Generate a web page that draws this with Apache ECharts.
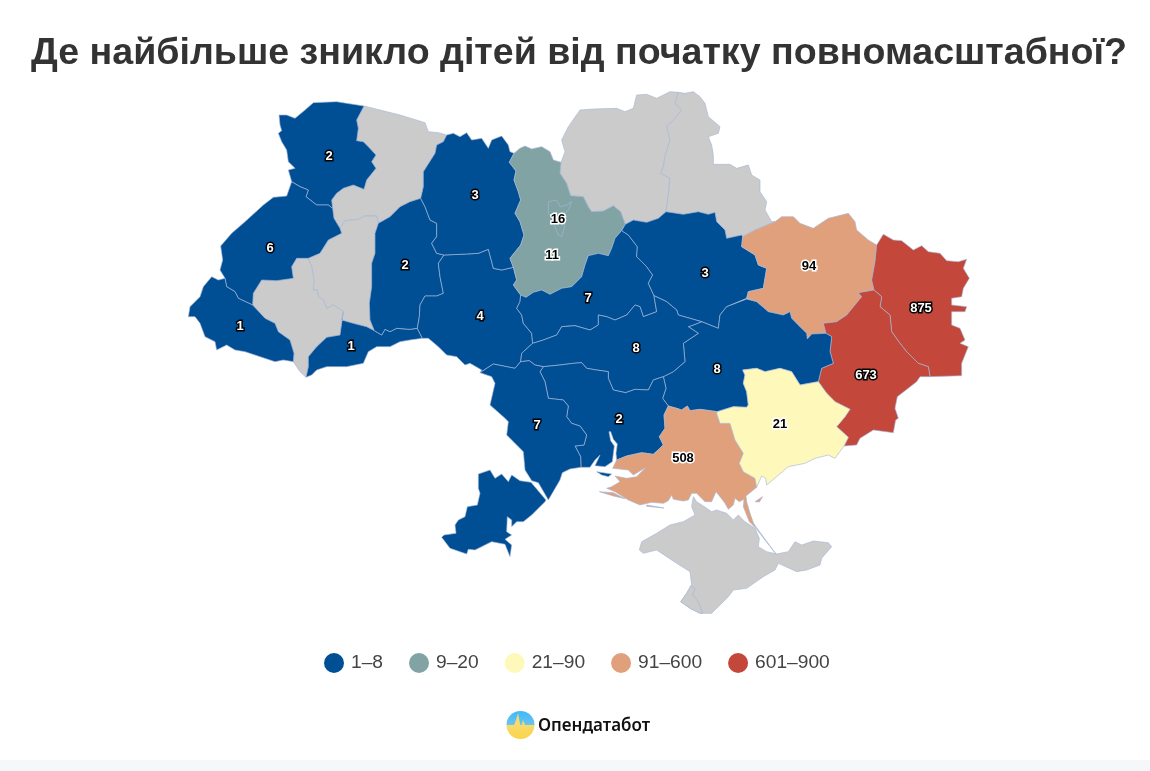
<!DOCTYPE html>
<html><head><meta charset="utf-8">
<style>html,body{margin:0;padding:0;background:#fff}#c{width:1150px;height:771px}</style>
<script src="https://cdn.jsdelivr.net/npm/echarts@6/dist/echarts.min.js"></script>
</head><body><div id="c"></div>
<script>
const titleText = 'Де найбільше зникло дітей від початку повномасштабної?';
const regionNames = ['Волинська','Львівська','Закарпатська','Чернівецька','Хмельницька','Вінницька','Житомирська','Київська','м. Київ','Черкаська','Полтавська','Харківська','Луганська','Донецька','Дніпропетровська','Кіровоградська','Миколаївська','Одеська','Херсонська','Запорізька'];
const regionValues = [2,6,1,1,2,4,3,11,16,7,3,94,875,673,8,8,2,7,508,21];
const labelPoints = [[329,156],[270,248],[240,326],[351,346],[405,265],[480,316],[475,195],[552,255],[558,219],[588,298],[705,273],[809,266],[921,308],[866,375],[717,369],[636,348],[619,419],[537,425],[683,458],[780,424]];
const noDataRegions = ['Рівненська','Тернопільська','Івано-Франківська','Чернігівська','Сумська','АР Крим','Севастополь'];
const legendLabels = ['1–8','9–20','21–90','91–600','601–900'];
const legendMin = [1,9,21,91,601];
const legendMax = [8,20,90,600,900];
const legendColors = ['#004f95','#81a3a4','#fef9bb','#e1a07c','#c3473b'];

// Region border outlines as [crop origin x, crop origin y, points at 3x].
const Z1=[180,90],Z2=[500,85],Z3=[720,200],Z4=[480,320],Z5=[600,400],Z7=[430,450],Z8=[570,440],Z9=[690,460],Z10=[535,190];
const borders = {
 VolN:[Z1,[552,48,500,40,470,35,400,38,375,60,345,85,320,75,297,75,300,105,305,122,295,130,305,155,320,180,325,215,345,235,325,240,335,275]],
 VL:[Z1,[335,275,360,290,385,300,378,320,410,345,445,345,458,355]],
 VR:[Z1,[458,355,455,330,470,310,490,295,520,285,552,298,560,270,588,235,575,215,588,195,565,170,550,155,530,152,535,115,530,90,552,48]],
 RN:[Z1,[552,48,600,60,660,75,735,98,745,125,775,128,800,135]],
 RZ:[Z1,[800,135,790,155,770,165,765,190,730,245,730,290,722,325]],
 RK:[Z1,[722,325,690,335,660,350,630,380,595,400]],
 RT:[Z1,[595,400,590,378,555,378,535,388,495,392,480,415]],
 RL:[Z1,[480,415,462,385,458,355]],
 LW:[Z1,[335,275,320,318,280,322,250,345,195,395,155,430,122,468,128,510,120,540,135,565]],
 LZ:[Z1,[135,565,140,590,165,605,175,625,218,645]],
 LI:[Z1,[218,645,220,610,245,570,290,572,340,565,335,530,350,505,385,505]],
 LT:[Z1,[385,505,420,490,445,450,485,430,480,415]],
 TI:[Z1,[385,505,395,530,402,570,400,600,412,600,415,620,430,630,440,655,460,645,490,665]],
 TC:[Z1,[490,665,485,690,520,700,560,710,583,722]],
 TK:[Z1,[583,722,570,690,568,640,575,590,575,520,585,490,585,430,595,400]],
 KZ:[Z1,[722,325,735,350,750,390,770,400,770,440,755,460,770,490,792,495]],
 KV:[Z1,[792,495,775,520,780,560,790,610,770,618,735,618,720,645,718,680,712,715]],
 KC:[Z1,[712,715,690,718,650,715,630,725,615,718,605,735,583,722]],
 VC:[Z1,[712,715,727,745]],
 CS:[Z1,[727,745,690,750,660,755,630,770,590,770,565,785,550,820,500,830,440,830,410,840,395,855,378,862]],
 CI:[Z1,[378,862,385,830,385,800,410,770,440,742,480,735,490,665]],
 IS:[Z1,[378,862,360,845,340,815]],
 IZ:[Z1,[340,815,342,790,330,750,295,725,285,700,255,685,218,645]],
 ZO:[Z1,[340,815,310,810,285,815,240,800,195,785,165,780,140,765,110,780,105,755,75,740,60,700,45,680,25,680,30,650,60,620,70,590,95,560,115,570,135,565]],
 VS:[Z1,[727,745,745,745,775,770,800,795,830,800,855,825,870,820,905,840]],
 ZN:[Z1,[800,135,820,130,840,140,860,128,875,150,905,145,925,175,935,150,965,138,985,165,990,185,1002,190]],
 ZK:[Z2,[42,205,28,232,48,258,42,285,55,320,62,345,45,385,60,410,72,450,62,480,30,520,40,547]],
 ZV:[Z1,[792,495,860,492,895,490,925,478,935,515,940,535,965,540,1000,532]],
 VO:[Z4,[122,125,105,145,40,132,0,158]],
 VK:[Z4,[158,70,125,100,122,125]],
 VCh:[Z2,[62,630,60,650,50,670,65,690,70,715,95,745,98,775]],
 KyV:[Z2,[40,547,50,585,40,600,62,630]],
 KN:[Z2,[42,205,60,190,75,183,95,192,125,185,150,200,160,225,183,232]],
 KCh:[Z2,[183,232,180,265,200,295,212,332,250,335,265,365,275,380,310,378,340,362,362,380,376,418]],
 KCh2:[Z2,[376,418,362,440,345,460,335,490,325,512,295,505,265,512,255,540,245,575,215,605,185,610,150,628,125,615,100,622,78,637,62,630]],
 ChO:[Z2,[183,232,195,200,185,165,205,125,240,75,280,72,350,70,375,80,400,70,410,30,440,28,470,40,510,20,535,22]],
 ChS:[Z2,[535,22,525,55,545,75,525,100,500,125,510,165,495,215,490,245,482,265,510,280,505,330,498,380]],
 ChP:[Z2,[376,418,400,405,440,412,475,400,498,380]],
 SuO:[Z2,[535,22,555,25,580,20,600,35,615,55,625,95,660,125,655,145,625,155,635,180,640,210,640,238,690,238,710,250,745,240,755,270,780,285,780,320,800,350,795,375,815,410]],
 SK:[Z3,[68,110,105,90,165,65]],
 PS:[Z2,[498,380,550,388,595,380,625,388,645,382,650,410,675,435,680,460,725,450]],
 KhP:[Z3,[68,110,65,140,105,165,115,195,140,205,135,235,130,265,85,275,80,295]],
 PD:[Z2,[605,710,655,730,660,690,680,665,740,642]],
 PK:[Z2,[462,632,500,650,530,675,535,690,570,700,605,710]],
 ChPt:[Z2,[376,418,365,437,385,450,412,485,410,515,440,545,458,570,445,595,462,632]],
 KhO:[Z3,[165,65,185,50,220,50,240,70,280,85,325,55,385,40,405,65,410,90,445,120,470,135]],
 KhL:[Z3,[470,135,465,185,455,240,462,270]],
 KhDon:[Z3,[462,270,415,278,425,290,380,345,350,365,310,370,318,400]],
 KhD:[Z3,[80,295,110,305,145,335,190,345,210,335,215,355,240,380,260,400,262,417,275,402,318,400]],
 LO:[Z3,[470,135,490,103,520,120,545,122,580,150,605,137,625,155,660,160,680,182,715,185,740,178,730,205,748,235,730,265,725,290,695,295,695,315,740,320,735,335,695,335,695,375,720,385,735,420,720,430,745,440,725,490,725,527,630,530]],
 LD:[Z3,[462,270,485,290,480,320,510,345,515,395,540,430,560,455,595,490,625,500,630,530]],
 DonS:[Z3,[630,530,600,530,590,545,532,590,525,625,535,655,527,660,520,698,460,690,420,715,410,735,372,738]],
 ZD:[Z3,[295,545,320,580,345,605,390,628,375,650,350,680,385,712,372,738]],
 DD:[Z3,[295,545,305,505,340,490,330,455,335,410,318,400]],
 ZCa:[Z3,[372,738,345,775,325,765,285,775,255,790,205,800]],
 ZCb:[Z5,[564,200,530,230,500,255,497,235,485,228,470,262]],
 ZK2:[Z5,[470,262,465,235,430,215,418,190,430,160,405,120,390,70,360,70,350,40]],
 ZaDa:[Z4,[712,275,760,260,800,262]],
 ZaDb:[Z3,[85,615,80,575,70,550,75,525,68,510,110,505,135,515,180,505,215,515,240,555,295,545]],
 KD:[Z4,[565,258,590,265,605,270,622,258,630,272,660,268,712,275]],
 DM:[Z4,[550,170,558,205,548,235,565,258]],
 KiD:[Z4,[665,5,640,15,625,20,655,40,610,70,615,125,580,155,550,170]],
 CK:[Z2,[462,632,470,680,430,695,420,665,405,660,380,690,345,705,320,695,295,690,295,720,270,735,225,722,185,725,170,750,130,765,98,775]],
 KO:[Z4,[190,140,165,135,148,122,122,125]],
 MKi:[Z4,[550,170,520,180,505,210,465,208,437,218,400,210,385,175,385,155,350,150,320,145,305,128,280,130,240,135,190,140]],
 OM:[Z4,[190,140,180,155,195,185,205,235,250,240,265,258,260,290,275,310,300,318,320,345,312,375,285,378,302,410,303,442]],
 MC:[Z4,[303,442,330,442,345,420,360,405,345,437,375,440,397,425,403,378,392,362,387,335,392,335,400,358,412,372,408,400,410,420]],
 MK:[Z4,[410,420,440,408,485,398,520,403,550,375,538,350,555,325,552,285,565,258]],
 OW:[Z4,[0,158,35,170,45,190,30,255,75,295,85,305,80,345,130,395,135,450,155,482,175,488,205,540]],
 OC:[Z4,[205,540,240,480,247,458,270,447,303,442]],
 KCa:[Z8,[140,60,128,85,175,90,190,105,228,82,200,110,170,115,135,108,150,125,125,140,110,145,135,155,175,180,210,195,245,187,280,190,295,182,305,165,310,178,340,183,355,180]],
 KCb:[Z9,[5,100,20,100,45,125,65,125,78,95,90,110,105,130,115,148,130,135,135,115,148,125,162,118,160,140,178,185,195,202,180,160,170,125,168,108,198,85]]
};
const islands = {
 budjak:[Z7,[303,97,270,92,245,75,235,95,215,72,195,85,180,60,145,72,145,115,150,130,142,165,112,170,105,200,85,210,75,225,78,250,42,255,35,262,60,295,110,312,115,298,135,300,185,275,225,283,240,320,245,285,225,268,245,255,230,245,232,200,245,210,245,230,260,215,280,215,305,195,345,155,348,150]],
 ochakiv:[Z4,[350,455,395,462,385,470,365,465]],
 tendra:[Z8,[88,155,130,158,165,176,130,168]],
 dzharylhach:[Z8,[230,195,282,204,282,207,230,199]],
 henichesk:[Z9,[195,125,218,110,208,126]],
 city:[Z10,[40,35,65,30,75,50,95,45,110,35,100,60,90,70,88,115,80,140,70,135,60,110,50,80,40,70,40,55]],
 crimea:[Z5,[280,290,275,320,285,345,250,365,210,375,170,400,125,425,118,450,130,460,170,450,200,470,230,490,270,515,275,555,260,580,242,605,270,625,300,640,335,640,385,590,400,570,440,565,490,530,525,510,535,490,590,515,620,510,660,495,665,475,695,440,685,428,640,423,605,435,585,425,565,455,530,462,500,455,475,440,478,415,465,385,435,365,415,345,400,360,380,340,350,330,335,335,320,325,290,305]],
 spit:[Z5,[462,372,530,465,527,467,459,374]],
 sevast:[Z5,[272,557,285,565,278,585,295,605,308,640,300,640,270,625,242,605,260,580]]
};
const regionShapes = {
 'Волинська':[['VolN','VL','VR']],
 'Рівненська':[['RN','RZ','RK','RT','RL','VR']],
 'Житомирська':[['ZN','ZK','-ZV','-KZ','-RZ']],
 'Львівська':[['LW','LZ','LI','LT','RL','-VL']],
 'Тернопільська':[['TI','TC','TK','RT','-LT']],
 'Хмельницька':[['KZ','KV','KC','TK','-RK']],
 'Чернівецька':[['VC','CS','CI','TC','-KC']],
 'Івано-Франківська':[['IS','IZ','LI','TI','-CI']],
 'Закарпатська':[['ZO','LZ','-IZ']],
 'Вінницька':[['KV','VC','VS','-VO','-VK','-VCh','-KyV','-ZV']],
 'Київська':[['KN','KCh','KCh2','-KyV','-ZK']],
 'Чернігівська':[['ChO','ChS','-ChP','-KCh']],
 'Сумська':[['SuO','-SK','-PS','-ChS']],
 'Полтавська':[['ChP','PS','KhP','-PD','-PK','-ChPt']],
 'Харківська':[['SK','KhO','KhL','KhDon','-KhD','-KhP']],
 'Луганська':[['LO','-LD','-KhL']],
 'Донецька':[['LD','DonS','-ZD','DD','-KhDon']],
 'Запорізька':[['ZD','ZCa','ZCb','ZK2','ZaDa','ZaDb']],
 'Херсонська':[['MK','KD','-ZK2','-KCb','-KCa'],['#tendra'],['#dzharylhach'],['#henichesk']],
 'Дніпропетровська':[['PD','KhD','-DD','-ZaDb','-ZaDa','-KD','-DM','-KiD']],
 'Кіровоградська':[['CK','VK','-KO','-MKi','-KiD','-PK']],
 'Черкаська':[['ChPt','CK','-VCh','-KCh2']],
 'Миколаївська':[['MKi','OM','MC','MK','-DM'],['#ochakiv']],
 'Одеська':[['VO','OW','OC','-OM','KO'],['#budjak']],
 'АР Крим':[['#crimea'],['#spit']],
 'Севастополь':[['#sevast']],
 'м. Київ':[['#city']]
};

function pts(entry){
  const o=entry[0],f=entry[1],r=[];
  for(let i=0;i<f.length;i+=2) r.push([o[0]+f[i]/3,-(o[1]+f[i+1]/3)]);
  return r;
}
function ring(parts){
  let r=[];
  parts.forEach(p=>{
    if(p[0]==='#'){ r=r.concat(pts(islands[p.slice(1)])); return; }
    const rev=p[0]==='-';
    const a=pts(borders[rev?p.slice(1):p]);
    r=r.concat(rev?a.reverse():a);
  });
  r.push(r[0]);
  return r;
}
const cpByName={};
regionNames.forEach((n,i)=>{cpByName[n]=[labelPoints[i][0],-labelPoints[i][1]];});
// Regions without data go first, so the shared lines of the coloured ones sit on top.
const order=noDataRegions.concat(regionNames.filter(n=>n!=='м. Київ'),['м. Київ']);
const geo={type:'FeatureCollection',features:order.map(name=>({
  type:'Feature',
  properties:{name:name,cp:cpByName[name]},
  geometry:{type:'MultiPolygon',coordinates:regionShapes[name].map(parts=>[ring(parts)])}
}))};
echarts.registerMap('ua',geo);

const darkHalo=v=>(v<=8||v>600);
const seriesData=regionNames.map((n,i)=>({
  name:n,value:regionValues[i],
  label:{color:darkHalo(regionValues[i])?'#ffffff':'#000000',textBorderColor:darkHalo(regionValues[i])?'#000000':'#ffffff'}
}));
const chart=echarts.init(document.getElementById('c'),null,{renderer:'canvas'});
chart.setOption({
  animation:false,
  backgroundColor:'#ffffff',
  title:{text:titleText,left:26,top:30,textStyle:{fontFamily:'Liberation Sans',fontWeight:'bold',fontSize:37.6,color:'#333333'}},
  visualMap:{
    type:'piecewise',orient:'horizontal',left:309,top:638,itemWidth:20,itemHeight:20,itemGap:26,textGap:7,
    itemSymbol:'circle',selectedMode:false,hoverLink:false,showLabel:true,
    textStyle:{fontFamily:'Liberation Sans',fontSize:19.2,color:'#444444'},
    pieces:legendLabels.map((l,i)=>({min:legendMin[i],max:legendMax[i],label:l,color:legendColors[i]})),
    seriesIndex:0
  },
  series:[{
    type:'map',map:'ua',aspectScale:1,roam:false,silent:true,
    boundingCoords:[[0,0],[1150,-771]],left:0,top:0,width:1150,height:771,
    itemStyle:{areaColor:'#cbcbcb',borderColor:'rgba(165,182,215,0.8)',borderWidth:0.8},
    label:{show:true,fontFamily:'Liberation Sans',fontWeight:'bold',fontSize:13,textBorderWidth:3,offset:[0,0.5],
      formatter:p=>(p.value==null||isNaN(p.value))?'':String(p.value)},
    emphasis:{disabled:true},select:{disabled:true},
    data:seriesData
  }],
  graphic:[
    {type:'rect',shape:{x:0,y:760,width:1150,height:11},style:{fill:'#f6f7f9'},silent:true},
    {type:'circle',shape:{cx:520.5,cy:725,r:14},silent:true,style:{fill:new echarts.graphic.LinearGradient(0,0,0,1,[
      {offset:0,color:'#3db8fb'},{offset:0.5,color:'#6cc4ee'},{offset:0.5,color:'#f6da6c'},{offset:1,color:'#fbd448'}])}},
    {type:'polygon',silent:true,shape:{points:[[507,725],[514,725],[516,720],[518,713],[519.5,721],[521,728],[523,720],[525,725],[534,725],[533,727],[508,727]]},style:{fill:'#f6da6c'}},
    {type:'text',left:538,top:718,silent:true,style:{text:'Опендатабот',fontFamily:'Noto Sans',fontWeight:600,fontSize:17,fill:'#111111'}}
  ]
});
</script></body></html>
